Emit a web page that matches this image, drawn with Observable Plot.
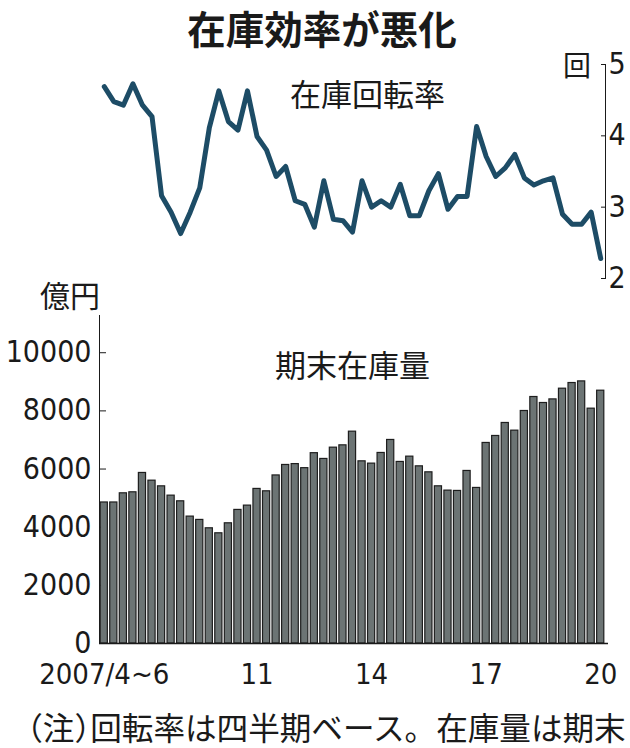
<!DOCTYPE html>
<html><head><meta charset="utf-8">
<script src="https://cdn.jsdelivr.net/npm/d3@7"></script>
<script src="https://cdn.jsdelivr.net/npm/@observablehq/plot@0.6"></script>
<style>
body{margin:0;background:#fff;}
#wrap{position:relative;width:630px;height:748px;overflow:hidden;font-family:"Noto Sans CJK JP",sans-serif;color:#1a1a1a;background:#fff;}
.lbl{position:absolute;white-space:nowrap;line-height:1;}
#title{left:7px;width:630px;top:8px;text-align:center;font-size:38.5px;font-weight:700;}
#rateLbl{left:290px;top:77px;font-size:31px;}
#unitKai{left:563px;top:50px;font-size:28px;}
#unitOku{left:40px;top:279px;font-size:30px;}
#invLbl{left:275px;top:348px;font-size:31px;}
#caption{left:27px;top:711px;font-size:31.6px;}
#caption .half{font-feature-settings:"halt";}
#top{position:absolute;left:0;top:48px;}
#bottom{position:absolute;left:0;top:290px;}
</style></head>
<body><div id="wrap">
<div id="top"></div>
<div id="bottom"></div>
<div class="lbl" id="title">在庫効率が悪化</div>
<div class="lbl" id="rateLbl">在庫回転率</div>
<div class="lbl" id="unitKai">回</div>
<div class="lbl" id="unitOku">億円</div>
<div class="lbl" id="invLbl">期末在庫量</div>
<div class="lbl" id="caption"><span class="half">（</span>注<span class="half">）</span>回転率は四半期ベース。在庫量は期末</div>
</div>
<script>
const quarters = ["2007Q2","2007Q3","2007Q4","2008Q1","2008Q2","2008Q3","2008Q4","2009Q1","2009Q2","2009Q3","2009Q4","2010Q1","2010Q2","2010Q3","2010Q4","2011Q1","2011Q2","2011Q3","2011Q4","2012Q1","2012Q2","2012Q3","2012Q4","2013Q1","2013Q2","2013Q3","2013Q4","2014Q1","2014Q2","2014Q3","2014Q4","2015Q1","2015Q2","2015Q3","2015Q4","2016Q1","2016Q2","2016Q3","2016Q4","2017Q1","2017Q2","2017Q3","2017Q4","2018Q1","2018Q2","2018Q3","2018Q4","2019Q1","2019Q2","2019Q3","2019Q4","2020Q1","2020Q2"];
const turnoverRate = [4.69,4.48,4.43,4.73,4.43,4.27,3.16,2.93,2.63,2.93,3.27,4.11,4.63,4.20,4.08,4.63,3.99,3.80,3.43,3.57,3.09,3.04,2.72,3.37,2.83,2.81,2.65,3.37,3.00,3.09,3.00,3.32,2.88,2.88,3.23,3.47,2.97,3.15,3.15,4.13,3.71,3.43,3.55,3.74,3.41,3.31,3.37,3.41,2.90,2.76,2.76,2.93,2.28];
const inventory = [4850,4850,5165,5200,5865,5600,5405,5085,4890,4364,4250,3962,3790,4134,4594,4742,5316,5234,5780,6140,6170,6030,6545,6347,6735,6815,7285,6265,6186,6553,7000,6244,6426,6093,5887,5406,5258,5247,5934,5350,6897,7137,7584,7320,7996,8477,8271,8395,8763,8958,9014,8076,8694];
const xTickLabels = {"2007Q2":"2007/4~6","2011Q2":"11","2014Q2":"14","2017Q2":"17","2020Q2":"20"};
const rateTicks = [2,3,4,5];
const invTicks = [0,2000,4000,6000,8000,10000];

const numFont = "'Liberation Sans Narrow','DejaVu Sans Condensed','Arial Narrow',sans-serif";
const rateData = quarters.map((q,i)=>({i, q, v: turnoverRate[i]}));
const invData = quarters.map((q,i)=>({q, v: inventory[i]}));

const topPlot = Plot.plot({
  width: 630, height: 242,
  marginLeft: 99, marginRight: 25, marginTop: 16, marginBottom: 12,
  style: {fontFamily: numFont, fontSize: "30px", color: "#1a1a1a", background: "transparent", overflow: "visible"},
  x: {type: "linear", domain: [-0.5, quarters.length - 0.5], axis: null},
  y: {domain: [2,5], axis: "right", ticks: rateTicks, tickFormat: d => String(d), tickSize: -5, tickPadding: 8, line: true, label: null},
  marks: [
    Plot.line(rateData, {x: "i", y: "v", stroke: "#1d4c66", strokeWidth: 5, strokeLinejoin: "round", strokeLinecap: "round"})
  ]
});
document.getElementById("top").appendChild(topPlot);

const bottomPlot = Plot.plot({
  width: 630, height: 400,
  marginLeft: 99, marginRight: 25, marginTop: 25, marginBottom: 47,
  style: {fontFamily: numFont, fontSize: "30px", color: "#1a1a1a", background: "transparent", overflow: "visible"},
  x: {type: "band", domain: quarters, paddingInner: 0.25, paddingOuter: 0.125, round: false, label: null},
  y: {domain: [0, 11280], ticks: invTicks, tickFormat: d => String(d), tickSize: -7, tickPadding: 15, line: true, label: null},
  marks: [
    Plot.barY(invData, {x: "q", y: "v", fill: "#6c7474", stroke: "#1e1e1e", strokeWidth: 1.2}),
    Plot.ruleY([0], {stroke: "#1a1a1a", strokeWidth: 1.5, insetRight: -3}),
    Plot.axisX({ticks: Object.keys(xTickLabels), tickFormat: d => xTickLabels[d], tickSize: 0, tickPadding: 20, fontSize: 29, label: null})
  ]
});
document.getElementById("bottom").appendChild(bottomPlot);
</script>
</body></html>
